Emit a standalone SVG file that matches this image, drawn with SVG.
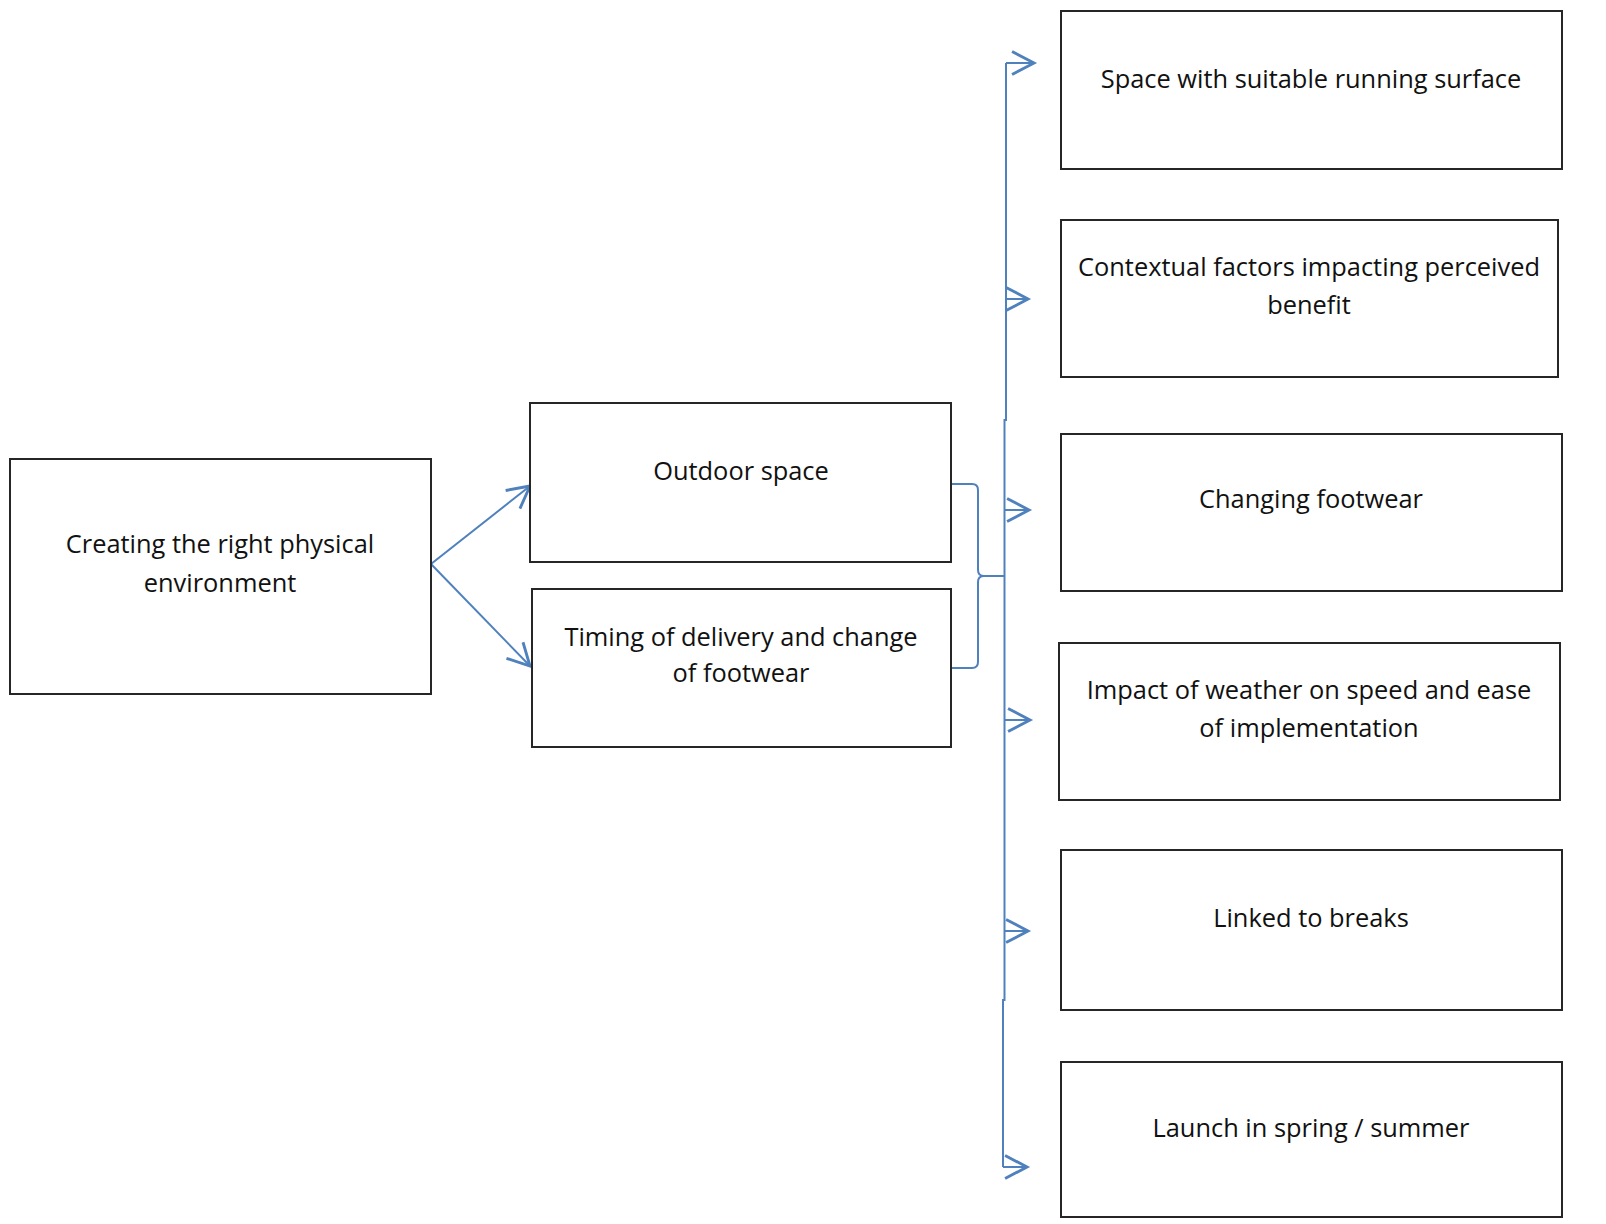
<svg xmlns="http://www.w3.org/2000/svg" width="1606" height="1224" viewBox="0 0 1606 1224">
  <style>
    .box { fill: #ffffff; stroke: #262626; stroke-width: 2; }
    .lbl { font-family: "Open Sans", "Liberation Sans", sans-serif; font-size: 25.4px; fill: #111111; text-anchor: middle; }
    .conn { fill: none; stroke: #4f81bd; stroke-width: 2; }
  </style>
  <defs>
    <marker id="arr" markerUnits="userSpaceOnUse" markerWidth="30" markerHeight="30" viewBox="-22 -12 26 24" refX="0" refY="0" orient="auto">
      <path d="M -19,-10 L 0,0 L -19,10" fill="none" stroke="#4f81bd" stroke-width="2.5"/>
    </marker>
  </defs>
  <rect width="1606" height="1224" fill="#ffffff"/>

  <g id="connectors">
    <path class="conn" d="M431,564 L530,486" marker-end="url(#arr)"/>
    <path class="conn" d="M431,564 L530,666" marker-end="url(#arr)"/>
    <path class="conn" d="M952,484 L972,484 Q978,484 978,490 L978,570 Q978,576 984,576 L1004,576"/>
    <path class="conn" d="M952,668 L972,668 Q978,668 978,662 L978,582 Q978,576 984,576"/>
    <path class="conn" d="M1006,63 L1006,420 L1004.5,420 L1004.5,1000 L1003,1000 L1003,1167"/>
    <path class="conn" d="M1006,63 L1034,63" marker-end="url(#arr)"/>
    <path class="conn" d="M1006,299 L1028,299" marker-end="url(#arr)"/>
    <path class="conn" d="M1004,510 L1029,510" marker-end="url(#arr)"/>
    <path class="conn" d="M1004,720 L1030,720" marker-end="url(#arr)"/>
    <path class="conn" d="M1004,931 L1028,931" marker-end="url(#arr)"/>
    <path class="conn" d="M1003,1167 L1027,1167" marker-end="url(#arr)"/>
  </g>

  <g id="node-creating">
    <rect class="box" x="10" y="459" width="421" height="235"/>
    <text class="lbl" x="220" y="553">Creating the right physical</text>
    <text class="lbl" x="220" y="592">environment</text>
  </g>
  <g id="node-outdoor">
    <rect class="box" x="530" y="403" width="421" height="159"/>
    <text class="lbl" x="741" y="480">Outdoor space</text>
  </g>
  <g id="node-timing">
    <rect class="box" x="532" y="589" width="419" height="158"/>
    <text class="lbl" x="741" y="646">Timing of delivery and change</text>
    <text class="lbl" x="741" y="682">of footwear</text>
  </g>
  <g id="node-space">
    <rect class="box" x="1061" y="11" width="501" height="158"/>
    <text class="lbl" x="1311" y="88">Space with suitable running surface</text>
  </g>
  <g id="node-contextual">
    <rect class="box" x="1061" y="220" width="497" height="157"/>
    <text class="lbl" x="1309" y="276">Contextual factors impacting perceived</text>
    <text class="lbl" x="1309" y="314">benefit</text>
  </g>
  <g id="node-changing">
    <rect class="box" x="1061" y="434" width="501" height="157"/>
    <text class="lbl" x="1311" y="508">Changing footwear</text>
  </g>
  <g id="node-impact">
    <rect class="box" x="1059" y="643" width="501" height="157"/>
    <text class="lbl" x="1309" y="699">Impact of weather on speed and ease</text>
    <text class="lbl" x="1309" y="737">of implementation</text>
  </g>
  <g id="node-linked">
    <rect class="box" x="1061" y="850" width="501" height="160"/>
    <text class="lbl" x="1311" y="927">Linked to breaks</text>
  </g>
  <g id="node-launch">
    <rect class="box" x="1061" y="1062" width="501" height="155"/>
    <text class="lbl" x="1311" y="1137">Launch in spring / summer</text>
  </g>
</svg>
